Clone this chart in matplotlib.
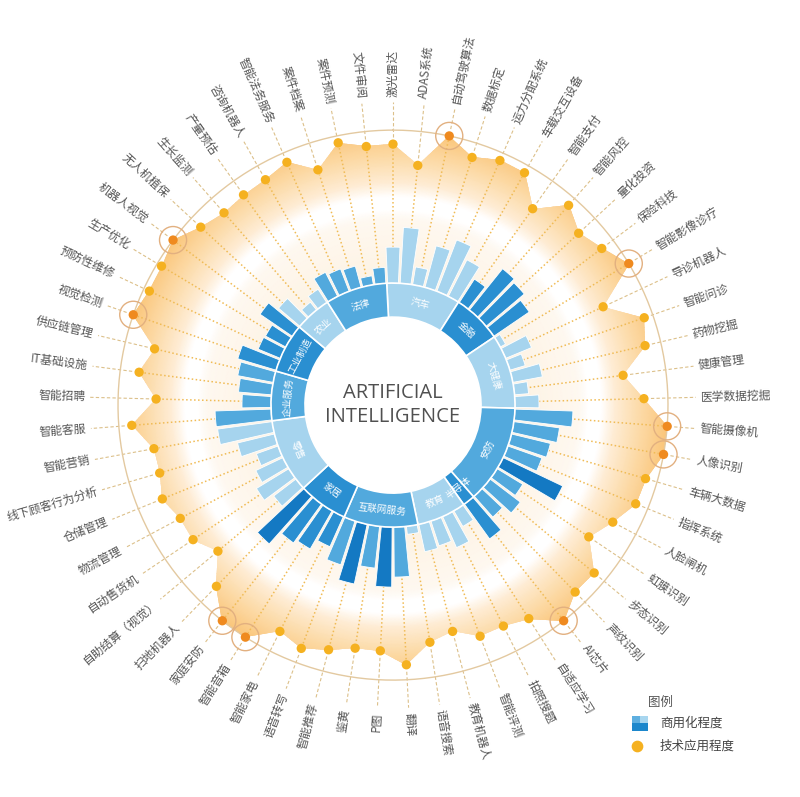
import numpy as np
import matplotlib.pyplot as plt
from matplotlib.colors import LinearSegmentedColormap

plt.rcParams['font.family'] = ['Noto Sans CJK SC', 'DejaVu Sans']

# 应用场景, clockwise from the top
apps = ['激光雷达', 'ADAS系统', '自动驾驶算法', '数据标定', '运力分配系统', '车载交互设备',
        '智能支付', '智能风控', '量化投资', '保险科技',
        '智能影像诊疗', '导诊机器人', '智能问诊', '药物挖掘', '健康管理', '医学数据挖掘',
        '智能摄像机', '人像识别', '车辆大数据', '指挥系统', '人脸闸机', '虹膜识别', '步态识别', '声纹识别',
        'AI芯片',
        '自适应学习', '拍照搜题', '智能评测', '教育机器人',
        '语音搜索', '翻译', 'P图', '鉴黄', '智能推荐', '语音转写',
        '智能家电', '智能音箱', '家庭安防', '扫地机器人',
        '自助结算（视觉）', '自动售货机', '物流管理', '仓储管理', '线下顾客行为分析', '智能营销',
        '智能客服', '智能招聘', 'IT基础设施', '供应链管理',
        '视觉检测', '预防性维修', '生产优化', '机器人视觉',
        '无人机植保', '生长监测', '产量预估',
        '咨询机器人', '智能法务服务', '案件档案', '案件预测', '文件审阅']

# 技术应用程度 (radius of the orange dots)
tech = [261, 241, 275, 260, 267, 267,
        241, 266, 253, 261,
        275, 232, 266, 259, 232, 251,
        275, 275, 263, 262, 249, 236, 262, 261,
        275,
        253, 247, 247, 234,
        240, 260, 246, 246, 253, 260,
        253, 275, 275, 253,
        228, 241, 241, 249, 243, 243,
        262, 237, 256, 245,
        275, 269, 270, 275,
        262, 256, 258,
        259, 265, 247, 268, 260]

# 商用化程度 (outer radius of the blue bars)
commercial = [158, 178, 140, 165, 177, 163,
              150, 175, 172, 165,
              128, 150, 138, 152, 136, 146,
              180, 168, 162, 158, 188, 152, 160, 150,
              165,
              140, 156, 148, 150,
              130, 172, 182, 164, 183, 168,
              155, 166, 170, 186,
              150, 160, 152, 145, 160, 177,
              178, 151, 155, 158,
              162, 146, 145, 161,
              150, 132, 138,
              149, 146, 144, 131, 138]

# blue tone of each bar, 1 = light ... 4 = dark
shade = [1, 1, 1, 1, 1, 1,
         3, 3, 3, 3,
         1, 1, 1, 1, 1, 1,
         2, 2, 2, 2, 4, 2, 2, 2,
         3,
         1, 1, 1, 1,
         1, 2, 4, 2, 4, 2,
         3, 3, 3, 4,
         1, 1, 1, 1, 1, 1,
         2, 2, 2, 2,
         3, 3, 3, 3,
         1, 1, 1,
         2, 2, 2, 2, 2]

focus = ['自动驾驶算法', '智能影像诊疗', '智能摄像机', '人像识别', 'AI芯片',
         '智能音箱', '家庭安防', '视觉检测', '机器人视觉']

categories = ['汽车', '金融', '大健康', '安防', '半导体', '教育', '互联网服务',
              '家居', '零售', '企业服务', '工业制造', '农业', '法律']
cat_sizes = [6, 4, 6, 8, 1, 4, 6, 4, 6, 4, 4, 3, 5]
cat_shade = [1, 3, 1, 2, 3, 1, 2, 3, 1, 2, 3, 1, 2]

blues = {1: '#a6d4ee', 2: '#52a9dd', 3: '#2a8fd1', 4: '#1479c3'}

n = len(apps)
step = 2 * np.pi / n
theta = np.arange(n) * step

fig = plt.figure(figsize=(8, 7.97), dpi=100)
ax = fig.add_axes([-0.00875, -0.0102, 1.0, 1.0038], projection='polar')
ax.set_theta_zero_location('N')
ax.set_theta_direction(-1)
ax.set_ylim(0, 400)
ax.set_axis_off()

# warm radial gradient clipped to the dot polygon
warm = LinearSegmentedColormap.from_list('warm', [
    (0.0, '#fdf2e2'), (0.39, '#fef8f0'), (0.45, '#ffffff'), (0.53, '#ffffff'),
    (0.62, '#feecd4'), (0.76, '#fcdcab'), (0.89, '#fbcc88'), (1.0, '#f8bf6c')])
tt = np.linspace(0, 2 * np.pi, 362)
rr = np.linspace(122, 285, 120)
T, RR = np.meshgrid(tt, rr)
mesh = ax.pcolormesh(T, RR, RR, cmap=warm, vmin=122, vmax=285,
                     shading='gouraud', zorder=0)
shape, = ax.fill(np.append(theta, theta[0]), np.append(tech, tech[0]),
                 facecolor='none', edgecolor='none')
mesh.set_clip_path(shape)

# outer reference circle
ax.plot(tt, np.full_like(tt, 275), color='#e3c9a0', lw=1, zorder=2)

# dotted spokes and dashed leaders
for t, r in zip(theta, tech):
    ax.plot([t, t], [122, r - 5], color='#f0bb55', lw=1.1,
            ls=(0, (1, 1.6)), zorder=1)
    ax.plot([t, t], [r + 7, 303], color='#dcc08a', lw=0.8,
            ls=(0, (3, 2)), zorder=1)

# blue bars
ax.bar(theta, np.array(commercial) - 122, width=step * 0.86, bottom=122,
       color=[blues[s] for s in shade], edgecolor='white', lw=0.6, zorder=3)

# category ring
start = 0
for name, size, s in zip(categories, cat_sizes, cat_shade):
    mid = (start + (size - 1) / 2) * step
    ax.bar(mid, 34, width=size * step, bottom=88, color=blues[s],
           edgecolor='white', lw=1.2, zorder=4)
    deg = np.degrees(mid)
    rot = 180 - deg if 90 <= deg < 270 else -deg
    ax.text(mid, 105, name, color='white', fontsize=7, rotation=rot,
            rotation_mode='anchor', ha='center', va='center', zorder=6)
    start += size

# dots
is_focus = np.array([a in focus for a in apps])
tech_arr = np.array(tech)
ax.scatter(theta[~is_focus], tech_arr[~is_focus], s=45, color='#f5b120',
           edgecolors='none', zorder=5)
ax.scatter(theta[is_focus], tech_arr[is_focus], s=45, color='#ef8a1f',
           edgecolors='none', zorder=5)
ax.scatter(theta[is_focus], tech_arr[is_focus], s=380, facecolors='none',
           edgecolors='#e2b080', lw=1, zorder=5)

# outer labels
for t, name in zip(theta, apps):
    deg = np.degrees(t)
    if deg < 180:
        rot, ha = 90 - deg, 'left'
    else:
        rot, ha = 270 - deg, 'right'
    ax.text(t, 308, name, rotation=rot, rotation_mode='anchor', ha=ha,
            va='center', fontsize=8.5, color='#555555')

ax.text(0, 0, 'ARTIFICIAL\nINTELLIGENCE', ha='center', va='center',
        fontsize=14.5, color='#505050', linespacing=1.25,
        family=['Liberation Sans Narrow', 'Open Sans', 'DejaVu Sans'], zorder=6)

# legend
fig.text(0.81, 0.119, '图例', fontsize=9, color='#555555', va='center')
lax = fig.add_axes([632 / 800, 1 - 731 / 797, 15 / 800, 15 / 797])
lax.imshow(np.array([[[0.37, 0.69, 0.88], [0.66, 0.84, 0.94]],
                     [[0.11, 0.53, 0.80], [0.11, 0.53, 0.80]]]))
lax.set_axis_off()
fig.text(0.825, 0.093, '商用化程度', fontsize=9, color='#444444', va='center')
fig.text(0.825, 0.064, '技术应用程度', fontsize=9, color='#444444', va='center')
dax = fig.add_axes([630 / 800, 1 - 753 / 797, 14 / 800, 14 / 797])
dax.scatter([0], [0], s=55, color='#f5b120')
dax.set_xlim(-1, 1)
dax.set_ylim(-1, 1)
dax.set_axis_off()

fig.savefig('out.png', dpi=100)
